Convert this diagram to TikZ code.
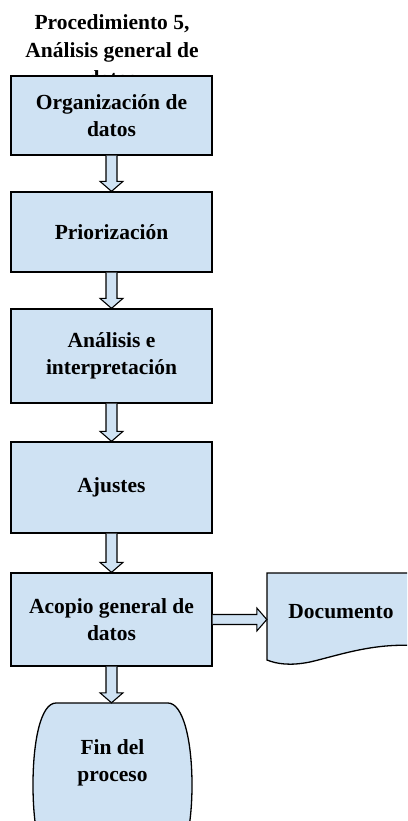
\documentclass[tikz,border=0pt]{standalone}
\usepackage{fontspec}
\setmainfont{Liberation Serif}
\usetikzlibrary{calc}
\definecolor{boxfill}{RGB}{207,226,243}
\tikzset{
  procbox/.style={draw=black, line width=1.3pt, fill=boxfill, minimum width=201pt,
    align=center, font=\fontsize{21.5}{27}\selectfont\bfseries, inner sep=0pt},
  lbl/.style={align=center, font=\fontsize{21.5}{27}\selectfont\bfseries, inner sep=0pt},
  barrow/.style={draw=black, line width=1.1pt, fill=boxfill, line join=miter}
}
\newcommand{\vblock}[2]{%
  \coordinate (tip) at (#1.south |- #2.north);
  \draw[barrow] ($(#1.south)+(-5.5,0)$) -- ($(tip)+(-5.5,-10)$) -- ($(tip)+(-11.5,-10)$)
   -- (tip) -- ($(tip)+(11.5,-10)$) -- ($(tip)+(5.5,-10)$) -- ($(#1.south)+(5.5,0)$);}
\begin{document}
\begin{tikzpicture}[x=1pt,y=-1pt]
\useasboundingbox (0,0) rectangle (407,821);
\begin{scope}
\clip (0,0) rectangle (407,821);
% title (third line hidden behind the first box)
\node[lbl, font=\fontsize{21.5}{28}\selectfont\bfseries] (title) at (112,50) {Procedimiento 5,\\Análisis general de\\datos};
\node[procbox, minimum height=79pt] (b1) at (111.5,115.5) {Organización de\\datos};
\node[procbox, minimum height=80pt] (b2) at (111.5,232) {Priorización};
\node[procbox, minimum height=94pt] (b3) at (111.5,356) {Análisis e\\interpretación};
\node[procbox, minimum height=91pt] (b4) at (111.5,487.5) {Ajustes};
\node[procbox, minimum height=93pt] (b5) at (111.5,619.5) {Acopio general de\\datos};
% document shape
\draw[draw=black, line width=1.3pt, fill=boxfill]
  (267,573) -- (420,573) -- (420,646)
  .. controls (375,642) and (340,655) .. (310,662)
  .. controls (290,666) and (277,664) .. (267,660) -- cycle;
\node[lbl, minimum width=148pt, minimum height=87pt] (doc) at (341,612) {Documento};
% end terminator
\draw[draw=black, line width=1.3pt, fill=boxfill]
  (56,703) -- (168,703)
  .. controls (183,703) and (192,740) .. (192,785)
  .. controls (192,830) and (183,867) .. (168,867)
  -- (56,867)
  .. controls (41,867) and (33,830) .. (33,785)
  .. controls (33,740) and (41,703) .. (56,703) -- cycle;
\node[lbl, minimum width=158pt, minimum height=60pt] (fin) at (112.5,733) {};
\node[lbl] (fintext) at (112.5,763) {Fin del\\proceso};
% block arrows
\vblock{b1}{b2}
\vblock{b2}{b3}
\vblock{b3}{b4}
\vblock{b4}{b5}
\vblock{b5}{fin}
\coordinate (htip) at (doc.west |- b5.east);
\draw[barrow] ($(b5.east)+(0,-5)$) -- ($(htip)+(-10,-5)$) -- ($(htip)+(-10,-11.5)$)
   -- (htip) -- ($(htip)+(-10,11.5)$) -- ($(htip)+(-10,5)$) -- ($(b5.east)+(0,5)$);
\end{scope}
\end{tikzpicture}
\end{document}
